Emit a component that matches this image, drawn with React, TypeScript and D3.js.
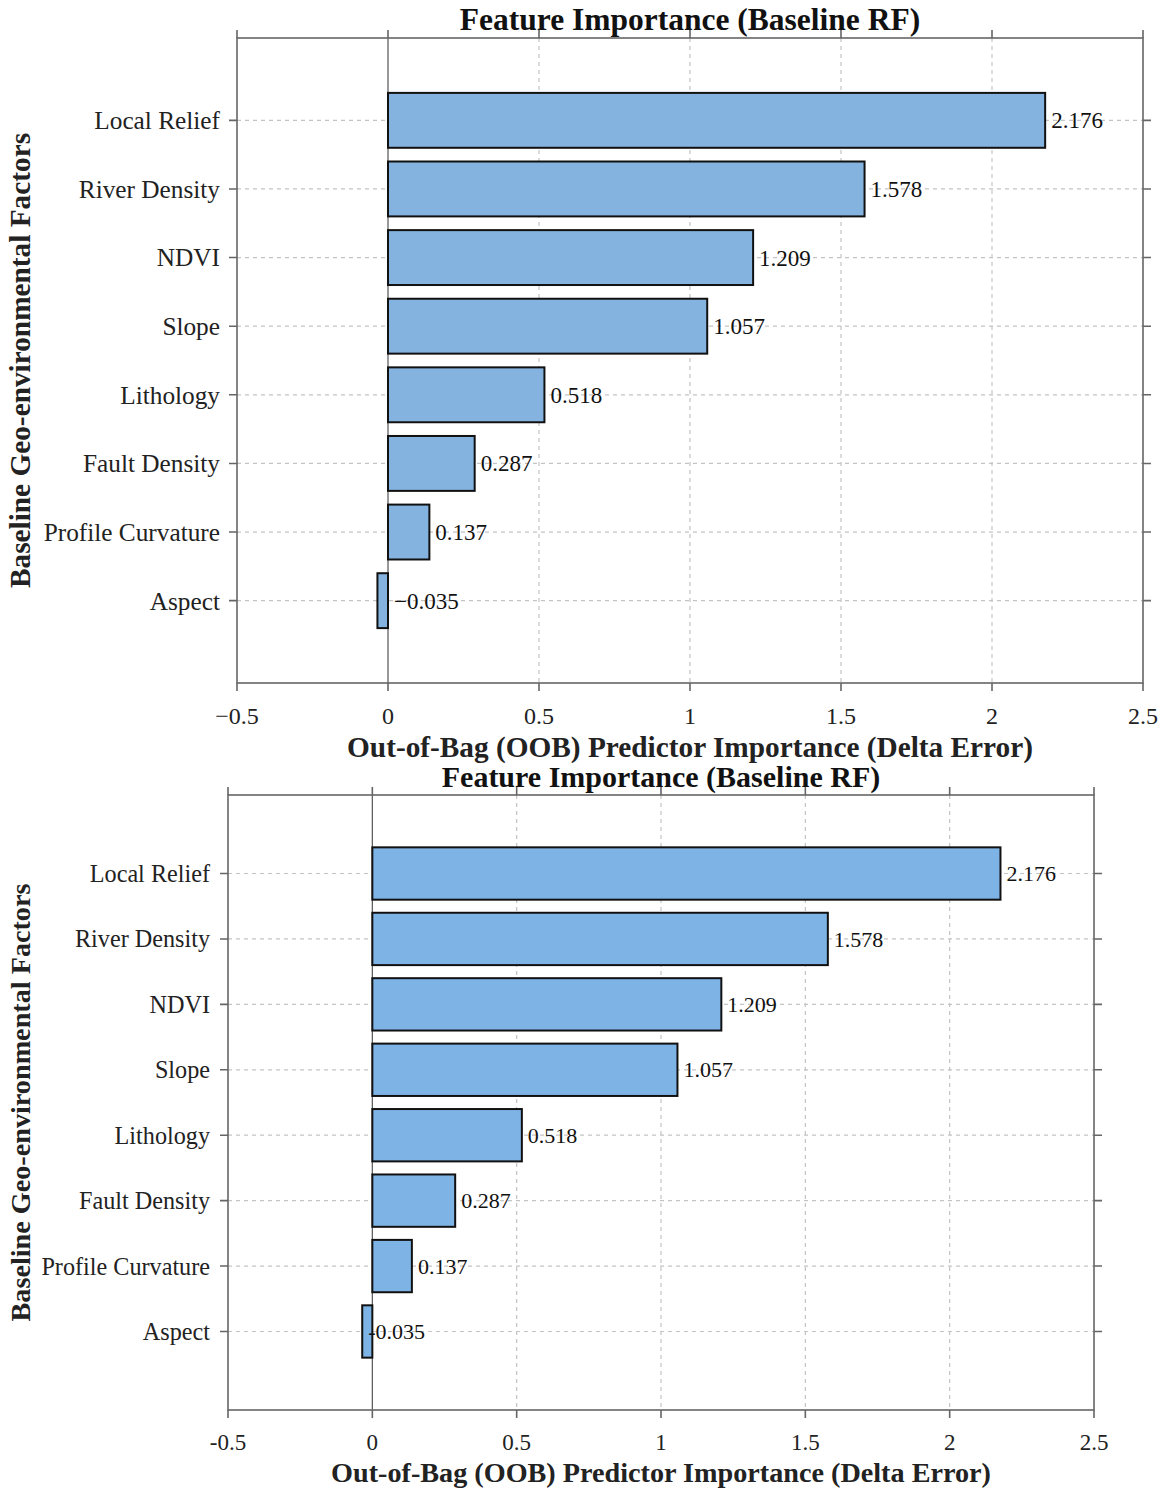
import React, { useEffect, useRef } from "react";
import * as d3 from "d3";

const factors = [
  "Local Relief",
  "River Density",
  "NDVI",
  "Slope",
  "Lithology",
  "Fault Density",
  "Profile Curvature",
  "Aspect",
];
const importance = [2.176, 1.578, 1.209, 1.057, 0.518, 0.287, 0.137, -0.035];
const xTicks = [-0.5, 0, 0.5, 1, 1.5, 2, 2.5];

const titleText = "Feature Importance (Baseline RF)";
const xLabelText = "Out-of-Bag (OOB) Predictor Importance (Delta Error)";
const yLabelText = "Baseline Geo-environmental Factors";

type Panel = {
  left: number;
  right: number;
  top: number;
  bottom: number;
  fill: string;
  minus: string;
  labelAtValue: boolean;
  titleY: number;
  tickY: number;
  xLabelY: number;
  catGap: number;
  titleFs: number;
  labelFs: number;
  catFs: number;
  tickFs: number;
};

const panels: Panel[] = [
  {
    left: 237, right: 1143, top: 38, bottom: 683,
    fill: "#84b3e0", minus: "\u2212", labelAtValue: false,
    titleY: 30, tickY: 724, xLabelY: 757, catGap: 17,
    titleFs: 31.5, labelFs: 29.3, catFs: 25.3, tickFs: 24,
  },
  {
    left: 228, right: 1094, top: 795, bottom: 1410,
    fill: "#7eb3e6", minus: "-", labelAtValue: true,
    titleY: 787, tickY: 1450, xLabelY: 1482, catGap: 18,
    titleFs: 30, labelFs: 28.2, catFs: 24.2, tickFs: 23,
  },
];

const FONT = "'Liberation Serif', 'Times New Roman', serif";

export default function App() {
  const ref = useRef<SVGSVGElement | null>(null);

  useEffect(() => {
    if (!ref.current) return;
    const svg = d3.select(ref.current);
    svg.selectAll("*").remove();

    panels.forEach((p) => {
      const g = svg.append("g").attr("font-family", FONT);
      const x = d3.scaleLinear().domain([-0.5, 2.5]).range([p.left, p.right]);
      const y = d3
        .scaleBand<string>()
        .domain(factors)
        .range([p.top, p.bottom])
        .paddingInner(0.2)
        .paddingOuter(0.8);
      const yc = (f: string) => (y(f) as number) + y.bandwidth() / 2;
      const fmt = (v: number) =>
        d3.format("")(v).replace("-", p.minus).replace("\u2212", p.minus);

      // dashed grid
      g.append("g")
        .selectAll("line")
        .data(xTicks.filter((t) => t !== -0.5 && t !== 2.5 && t !== 0))
        .join("line")
        .attr("x1", (d) => x(d)).attr("x2", (d) => x(d))
        .attr("y1", p.top).attr("y2", p.bottom)
        .attr("stroke", "#c4c4c4").attr("stroke-width", 1.2)
        .attr("stroke-dasharray", "4,4");
      g.append("g")
        .selectAll("line")
        .data(factors)
        .join("line")
        .attr("x1", p.left).attr("x2", p.right)
        .attr("y1", yc).attr("y2", yc)
        .attr("stroke", "#c4c4c4").attr("stroke-width", 1.2)
        .attr("stroke-dasharray", "4,4");

      // zero line
      g.append("line")
        .attr("x1", x(0)).attr("x2", x(0))
        .attr("y1", p.top).attr("y2", p.bottom)
        .attr("stroke", "#555").attr("stroke-width", 1.2);

      // bars
      g.append("g")
        .selectAll("rect")
        .data(factors)
        .join("rect")
        .attr("x", (d, i) => x(Math.min(0, importance[i])))
        .attr("width", (d, i) => Math.abs(x(importance[i]) - x(0)))
        .attr("y", (d) => y(d) as number)
        .attr("height", y.bandwidth())
        .attr("fill", p.fill)
        .attr("stroke", "#111")
        .attr("stroke-width", 2);

      // value labels
      g.append("g")
        .selectAll("text")
        .data(factors)
        .join("text")
        .attr("x", (d, i) =>
          x(p.labelAtValue ? importance[i] : Math.max(0, importance[i])) + 6
        )
        .attr("y", yc)
        .attr("dy", "0.35em")
        .attr("font-size", p.tickFs - 1)
        .attr("fill", "#111")
        .text((d, i) => fmt(importance[i]));

      // box
      g.append("rect")
        .attr("x", p.left).attr("y", p.top)
        .attr("width", p.right - p.left).attr("height", p.bottom - p.top)
        .attr("fill", "none").attr("stroke", "#666").attr("stroke-width", 1.6);

      // outward ticks on all four sides
      const tk = 8;
      g.append("g")
        .selectAll("path")
        .data(xTicks)
        .join("path")
        .attr("d", (d) => `M${x(d)},${p.bottom}v${tk}M${x(d)},${p.top}v${-tk}`)
        .attr("stroke", "#666").attr("stroke-width", 1.6);
      g.append("g")
        .selectAll("path")
        .data(factors)
        .join("path")
        .attr("d", (d) => `M${p.left},${yc(d)}h${-tk}M${p.right},${yc(d)}h${tk}`)
        .attr("stroke", "#666").attr("stroke-width", 1.6);

      // tick labels
      g.append("g")
        .selectAll("text")
        .data(xTicks)
        .join("text")
        .attr("x", (d) => x(d))
        .attr("y", p.tickY)
        .attr("text-anchor", "middle")
        .attr("font-size", p.tickFs)
        .attr("fill", "#222")
        .text((d) => fmt(d));
      g.append("g")
        .selectAll("text")
        .data(factors)
        .join("text")
        .attr("x", p.left - p.catGap)
        .attr("y", yc)
        .attr("dy", "0.35em")
        .attr("text-anchor", "end")
        .attr("font-size", p.catFs)
        .attr("fill", "#222")
        .text((d) => d);

      // titles
      const cx = (p.left + p.right) / 2;
      g.append("text")
        .attr("x", cx).attr("y", p.titleY)
        .attr("text-anchor", "middle")
        .attr("font-size", p.titleFs)
        .attr("font-weight", "bold")
        .attr("fill", "#111")
        .text(titleText);
      g.append("text")
        .attr("x", cx).attr("y", p.xLabelY)
        .attr("text-anchor", "middle")
        .attr("font-size", p.labelFs)
        .attr("font-weight", "bold")
        .attr("fill", "#222")
        .text(xLabelText);
      g.append("text")
        .attr("transform", `translate(30,${(p.top + p.bottom) / 2}) rotate(-90)`)
        .attr("text-anchor", "middle")
        .attr("font-size", p.labelFs)
        .attr("font-weight", "bold")
        .attr("fill", "#222")
        .text(yLabelText);
    });
  }, []);

  return (
    <svg
      ref={ref}
      width={1167}
      height={1497}
      style={{ position: "absolute", left: 0, top: 0, background: "#fff" }}
    />
  );
}
